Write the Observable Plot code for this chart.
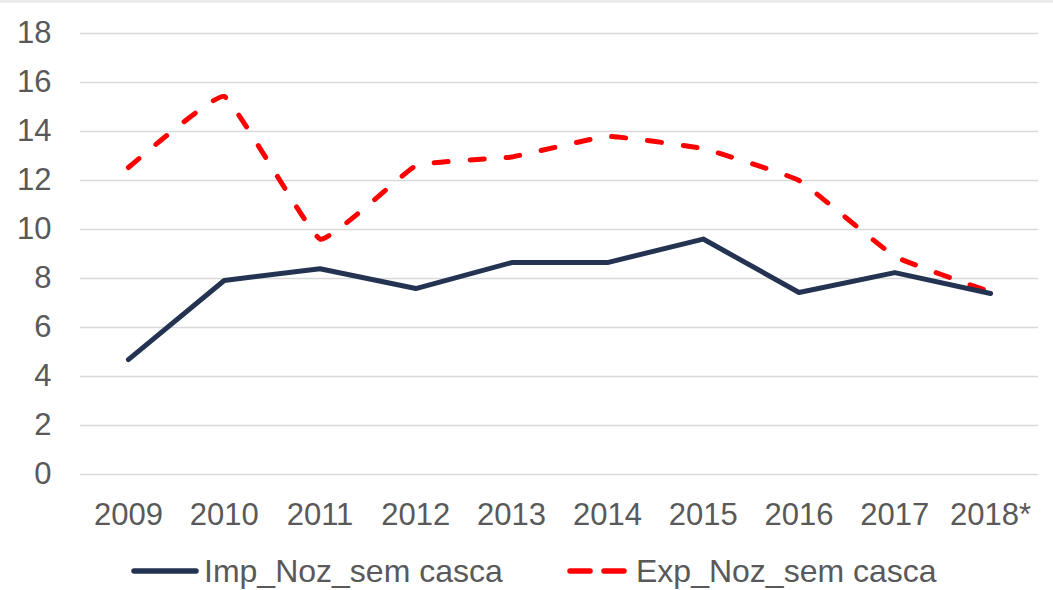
<!DOCTYPE html>
<html>
<head>
<meta charset="utf-8">
<script src="https://cdn.jsdelivr.net/npm/d3@7"></script>
<script src="https://cdn.jsdelivr.net/npm/@observablehq/plot@0.6"></script>
<style>
  html, body { margin: 0; padding: 0; background: #fff; }
  body { width: 1053px; height: 590px; overflow: hidden; font-family: "Liberation Sans", Arial, sans-serif; }
  #topbar { height: 3px; background: #ececec; }
  #wrap { position: relative; width: 1053px; height: 535px; }
  #wrap svg { display: block; }
  #legend { position: relative; height: 52px; color: #595959; font-size: 32px; }
  .item { position: absolute; top: 7px; display: flex; align-items: center; height: 52px; }
  .item span { margin-left: 5px; white-space: nowrap; }
</style>
</head>
<body>
<div id="topbar"></div>
<div id="wrap"></div>
<div id="legend"></div>
<script>
const years = ["2009", "2010", "2011", "2012", "2013", "2014", "2015", "2016", "2017", "2018*"];
const impNoz = [4.69, 7.92, 8.4, 7.59, 8.65, 8.65, 9.61, 7.43, 8.24, 7.39];
const expNoz = [12.53, 15.43, 9.61, 12.6, 12.96, 13.8, 13.3, 12.0, 8.9, 7.45];
const yTicks = [0, 2, 4, 6, 8, 10, 12, 14, 16, 18];
const seriesNames = ["Imp_Noz_sem casca", "Exp_Noz_sem casca"];
const seriesColors = ["#243352", "#ff0000"];

const impData = years.map((y, i) => ({year: y, value: impNoz[i]}));
const expData = years.map((y, i) => ({year: y, value: expNoz[i]}));

const chart = Plot.plot({
  width: 1053,
  height: 535,
  marginTop: 30,
  marginLeft: 80,
  marginRight: 15,
  marginBottom: 64,
  style: {fontFamily: "'Liberation Sans', Arial, sans-serif", color: "#595959", background: "white"},
  x: {type: "point", domain: years, padding: 0.5, round: false, label: null},
  y: {domain: [0, 18], label: null},
  marks: [
    Plot.ruleY(yTicks, {stroke: "#d9d9d9", strokeWidth: 1.4}),
    Plot.axisY(yTicks, {tickSize: 0, tickPadding: 29, fontSize: 31, fill: "#595959", label: null}),
    Plot.axisX({tickSize: 0, tickPadding: 28, fontSize: 31, fill: "#595959", label: null}),
    Plot.line(expData, {x: "year", y: "value", stroke: seriesColors[1], strokeWidth: 5,
      strokeDasharray: "14,22", strokeLinecap: "round", curve: "cardinal", tension: 0.7}),
    Plot.line(impData, {x: "year", y: "value", stroke: seriesColors[0], strokeWidth: 5,
      strokeLinecap: "round", strokeLinejoin: "round"})
  ]
});
document.getElementById("wrap").appendChild(chart);

// Legend
const legend = document.getElementById("legend");
const positions = [131, 567];
seriesNames.forEach((name, i) => {
  const item = document.createElement("div");
  item.className = "item";
  item.style.left = positions[i] + "px";
  const ns = "http://www.w3.org/2000/svg";
  const svg = document.createElementNS(ns, "svg");
  svg.setAttribute("width", i === 0 ? 68 : 64);
  svg.setAttribute("height", 12);
  const line = document.createElementNS(ns, "line");
  line.setAttribute("x1", 3);
  line.setAttribute("x2", i === 0 ? 65 : 60);
  line.setAttribute("y1", 6);
  line.setAttribute("y2", 6);
  line.setAttribute("stroke", seriesColors[i]);
  line.setAttribute("stroke-width", 5.5);
  line.setAttribute("stroke-linecap", "round");
  if (i === 1) line.setAttribute("stroke-dasharray", "20,14");
  svg.appendChild(line);
  const label = document.createElement("span");
  label.textContent = name;
  item.appendChild(svg);
  item.appendChild(label);
  legend.appendChild(item);
});
</script>
</body>
</html>
